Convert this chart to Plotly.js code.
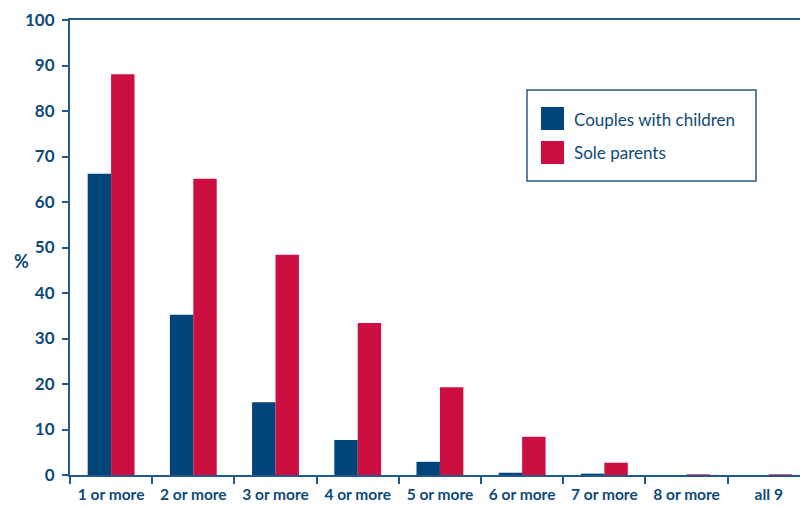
<!DOCTYPE html>
<html>
<head>
<meta charset="utf-8">
<script src="https://cdn.plot.ly/plotly-3.0.1.min.js"></script>
<style>html,body{margin:0;padding:0;background:#fff;}#chart{width:800px;height:506px;}</style>
</head>
<body>
<div id="chart"></div>
<script>
var categories = ["1 or more","2 or more","3 or more","4 or more","5 or more","6 or more","7 or more","8 or more","all 9"];
var couplesWithChildren = [66.2, 35.2, 16.0, 7.7, 2.9, 0.5, 0.3, 0.0, 0.0];
var soleParents = [88.1, 65.1, 48.4, 33.4, 19.3, 8.4, 2.7, 0.15, 0.15];
var yTicks = [0,10,20,30,40,50,60,70,80,90,100];
var seriesNames = ["Couples with children", "Sole parents"];

var navy = "#00457a";
var red = "#cc0e40";
var axisCol = "#23598a";
var textCol = "#0d4a7a";
var colors = [navy, red];

var data = [
  {type:"bar", name:seriesNames[0], x:categories, y:couplesWithChildren, marker:{color:navy}, showlegend:false},
  {type:"bar", name:seriesNames[1], x:categories, y:soleParents, marker:{color:red}, showlegend:false}
];

// custom legend (box + swatches + labels), positioned in paper coordinates
var shapes = [
  {type:"rect", xref:"paper", yref:"paper", x0:0.626, x1:0.9397, y0:0.6462, y1:0.8462,
   line:{color:axisCol, width:1.5}, fillcolor:"#fff", layer:"above"}
];
var swY = [[0.7582, 0.8088], [0.6835, 0.7341]];
var txtY = [0.7824, 0.7077];
var annotations = [{text:"%", xref:"paper", yref:"paper", x:-0.066, y:0.47, xanchor:"center", yanchor:"middle",
    showarrow:false, font:{family:"Lato, sans-serif", size:18, color:textCol, weight:"bold"}}];
for (var i = 0; i < seriesNames.length; i++) {
  shapes.push({type:"rect", xref:"paper", yref:"paper", x0:0.6452, x1:0.6767, y0:swY[i][0], y1:swY[i][1],
    line:{width:0}, fillcolor:colors[i], layer:"above"});
  annotations.push({text:seriesNames[i], xref:"paper", yref:"paper", x:0.6877, y:txtY[i], xanchor:"left", yanchor:"middle",
    showarrow:false, font:{family:"Lato, sans-serif", size:17, color:textCol}});
}

var layout = {
  width:800, height:506,
  margin:{l:70, r:0, t:20, b:31},
  paper_bgcolor:"#fff", plot_bgcolor:"#fff",
  barmode:"group", bargap:0.43, bargroupgap:0,
  showlegend:false,
  xaxis:{type:"category", range:[-0.5, 8.38], tickson:"boundaries", ticks:"outside", ticklen:7, tickwidth:2,
    tickcolor:axisCol, showline:true, linecolor:axisCol, linewidth:2, mirror:true, showgrid:false,
    ticklabelstandoff:4,
    tickfont:{family:"Lato, sans-serif", size:15.5, color:textCol, weight:"bold"}},
  yaxis:{range:[0,100], tickvals:yTicks, ticks:"outside", ticklen:6, tickwidth:2, tickcolor:axisCol,
    showline:true, linecolor:axisCol, linewidth:2, showgrid:false, zeroline:false,
    ticklabelstandoff:4,
    tickfont:{family:"Lato, sans-serif", size:17, color:textCol, weight:"bold"}},
  shapes:shapes,
  annotations:annotations
};
Plotly.newPlot("chart", data, layout, {displayModeBar:false, staticPlot:true});
</script>
</body>
</html>
